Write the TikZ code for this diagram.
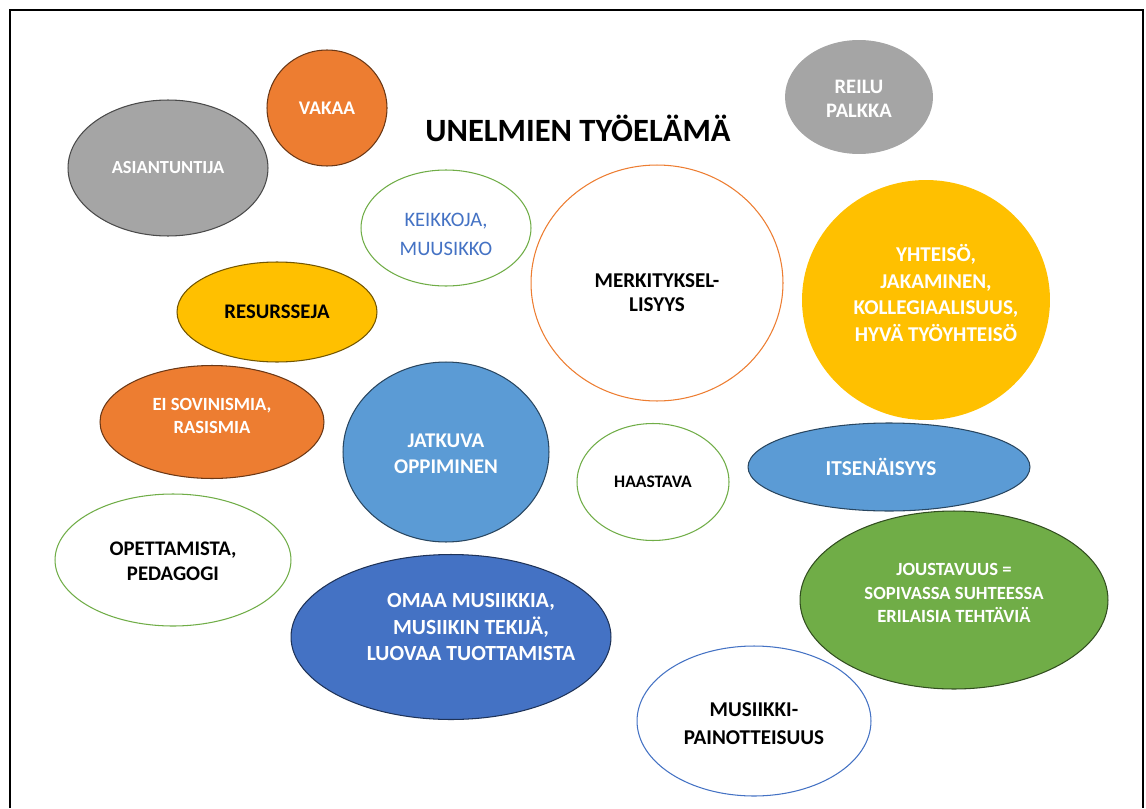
\documentclass[tikz,border=0pt]{standalone}
\usepackage{fontspec}
\setmainfont{Carlito}
\usepackage{tikz}
\usetikzlibrary{shapes.geometric}

\definecolor{oOrange}{HTML}{ED7D31}
\definecolor{oGray}{HTML}{A5A5A5}
\definecolor{oYellow}{HTML}{FFC000}
\definecolor{oBlue}{HTML}{5B9BD5}
\definecolor{oDarkBlue}{HTML}{4472C4}
\definecolor{oGreen}{HTML}{70AD47}

\tikzset{
	bubble/.style={ellipse, inner sep=0pt, line width=0.6pt},
	filled/.style={bubble, fill=#1, draw=#1!45!black},
	ring/.style={bubble, fill=white, draw=#1},
	txt/.style 2 args={align=center, inner sep=0pt, font=\fontsize{#1}{#2}\selectfont\bfseries},
	wtxt/.style 2 args={txt={#1}{#2}, text=white},
	ltxt/.style 2 args={align=center, inner sep=0pt, font=\fontsize{#1}{#2}\selectfont, text=oDarkBlue}
}

\begin{document}
\begin{tikzpicture}[x=0.02cm, y=-0.02cm]
		%%%%% START %%%%%
		\useasboundingbox (0, 0) rectangle (1146, 808);
		
		\draw[line width=1.1pt] (10, 808) -- (10, 10) -- (1143, 10) -- (1143, 808);
		
		\node[txt={18.5}{22}] (otsikko) at (578, 128) {UNELMIEN TYÖELÄMÄ};
		
		% top left
		\node[filled=oGray, minimum width=4.0cm, minimum height=2.72cm] (asiantuntija) at (168, 168) {};
		\node[wtxt={10.5}{13}] (asiantuntija-t) at (asiantuntija.center) {ASIANTUNTIJA};
		\node[filled=oOrange, minimum width=2.4cm, minimum height=2.32cm] (vakaa) at (327, 108) {};
		\node[wtxt={11}{13}] (vakaa-t) at (vakaa.center) {VAKAA};
		\node[filled=oGray, draw=none, minimum width=2.96cm, minimum height=2.28cm] (palkka) at (859, 97) {};
		\node[wtxt={11.7}{14}] (palkka-t) at ([shift={(0, 2)}]palkka.center) {REILU\\PALKKA};
		
		% upper row
		\node[ring=oGreen, minimum width=3.4cm, minimum height=2.32cm] (keikkoja) at (446, 228) {};
		\node[ltxt={11.7}{16.5}] (keikkoja-t) at ([shift={(0, 6)}]keikkoja.center) {KEIKKOJA,\\MUUSIKKO};
		\node[ring=oOrange, minimum width=5.04cm, minimum height=4.72cm] (merkitys) at (657, 283) {};
		\node[txt={12}{13.6}] (merkitys-t) at ([shift={(0, 10)}]merkitys.center) {MERKITYKSEL-\\LISYYS};
		\node[filled=oYellow, draw=none, minimum width=4.96cm, minimum height=4.8cm] (yhteiso) at (926, 300) {};
		\node[wtxt={12}{15.3}] (yhteiso-t) at ([shift={(10, -7)}]yhteiso.center) {YHTEISÖ,\\JAKAMINEN,\\KOLLEGIAALISUUS,\\HYVÄ TYÖYHTEISÖ};
		
		% middle
		\node[filled=oYellow, minimum width=4.0cm, minimum height=2.0cm] (resurssit) at (277, 312) {};
		\node[txt={11.8}{14}] (resurssit-t) at (resurssit.center) {RESURSSEJA};
		\node[filled=oOrange, minimum width=4.48cm, minimum height=2.26cm] (sovinismi) at (212, 422) {};
		\node[wtxt={10.6}{12.9}] (sovinismi-t) at ([shift={(0, -6)}]sovinismi.center) {EI SOVINISMIA,\\RASISMIA};
		\node[filled=oBlue, minimum width=4.12cm, minimum height=3.6cm] (oppiminen) at (446, 452) {};
		\node[wtxt={11.9}{15}] (oppiminen-t) at ([shift={(0, 2)}]oppiminen.center) {JATKUVA\\OPPIMINEN};
		\node[ring=oGreen, minimum width=3.04cm, minimum height=2.34cm] (haastava) at (653, 482) {};
		\node[txt={10}{12}] (haastava-t) at (haastava.center) {HAASTAVA};
		\node[filled=oBlue, minimum width=5.64cm, minimum height=1.76cm] (itsenaisyys) at (889, 467) {};
		\node[wtxt={12.1}{14}] (itsenaisyys-t) at ([shift={(-8, 0)}]itsenaisyys.center) {ITSENÄISYYS};
		
		% bottom
		\node[ring=oGreen, minimum width=4.72cm, minimum height=2.64cm] (pedagogi) at (173, 560) {};
		\node[txt={11.8}{14.2}] (pedagogi-t) at ([shift={(0, 1)}]pedagogi.center) {OPETTAMISTA,\\PEDAGOGI};
		\node[filled=oDarkBlue, minimum width=6.4cm, minimum height=3.3cm] (musiikki) at (451, 637) {};
		\node[wtxt={12.3}{15.1}] (musiikki-t) at ([shift={(20, -10)}]musiikki.center) {OMAA MUSIIKKIA,\\MUSIIKIN TEKIJÄ,\\LUOVAA TUOTTAMISTA};
		\node[filled=oGreen, minimum width=6.16cm, minimum height=3.56cm] (joustavuus) at (954, 600) {};
		\node[wtxt={10.6}{13.2}] (joustavuus-t) at ([shift={(0, -7)}]joustavuus.center) {JOUSTAVUUS =\\SOPIVASSA SUHTEESSA\\ERILAISIA TEHTÄVIÄ};
		\node[ring=oDarkBlue, minimum width=4.68cm, minimum height=3.0cm] (painotus) at (754, 721) {};
		\node[txt={12}{15.9}] (painotus-t) at ([shift={(0, 3)}]painotus.center) {MUSIIKKI-\\PAINOTTEISUUS};
		
		%%%%% END %%%%%
	\end{tikzpicture}
\end{document}
